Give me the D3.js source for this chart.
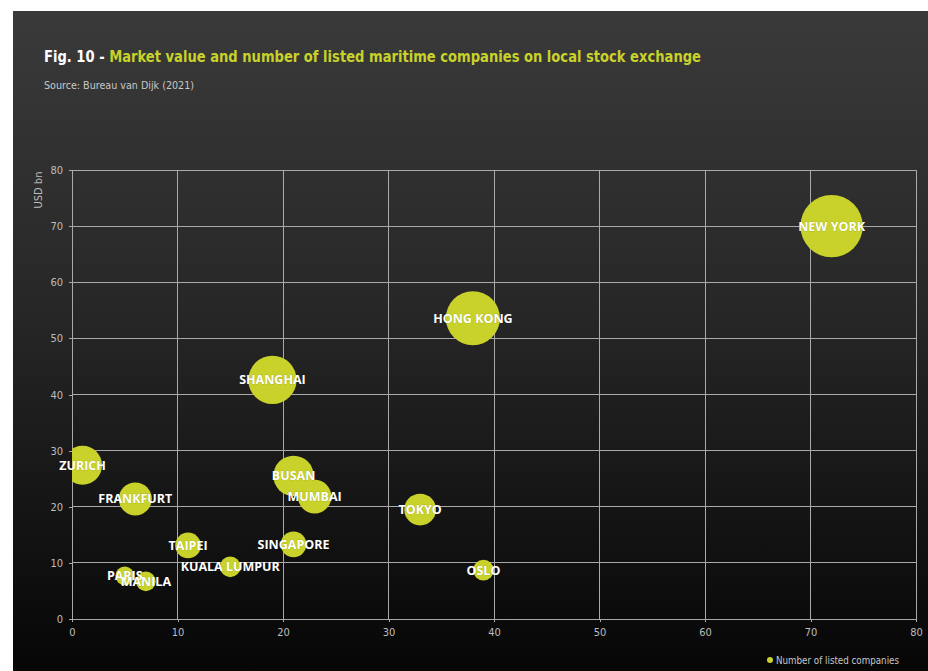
<!DOCTYPE html>
<html>
<head>
<meta charset="utf-8">
<script src="https://cdn.jsdelivr.net/npm/d3@7"></script>
<style>
  html, body { margin: 0; padding: 0; background: #ffffff; }
  svg { display: block; }
</style>
</head>
<body>
<svg id="chart" width="928" height="671"></svg>
<script>
// ---- Data ----
const cities = ["NEW YORK", "HONG KONG", "SHANGHAI", "ZURICH", "FRANKFURT", "BUSAN", "MUMBAI",
                "TOKYO", "TAIPEI", "SINGAPORE", "KUALA LUMPUR", "PARIS", "MANILA", "OSLO"];
const xValues = [72, 38, 19, 1, 6, 21, 23, 33, 11, 21, 15, 5, 7, 39];
const marketValue = [70, 53.6, 42.6, 27.4, 21.4, 25.5, 21.8, 19.5, 13.1, 13.3, 9.3, 7.7, 6.7, 8.7];
const listedCompanies = [100, 75, 60, 39, 28, 42, 29, 26, 17, 17, 11, 9, 10, 11];
const xTicks = [0, 10, 20, 30, 40, 50, 60, 70, 80];
const yTicks = [0, 10, 20, 30, 40, 50, 60, 70, 80];

const titlePrefix = "Fig. 10 - ";
const titleText = "Market value and number of listed maritime companies on local stock exchange";
const sourceText = "Source: Bureau van Dijk (2021)";
const yAxisTitle = "USD bn";
const legendLabel = "Number of listed companies";

// ---- Setup ----
const W = 928, H = 671;
const svg = d3.select("#chart");
const narrow = "'DejaVu Sans Condensed', 'Liberation Sans Narrow', 'Open Sans', sans-serif";
const bold = "'Open Sans', 'Noto Sans', sans-serif";
const accent = "#c8d22a";

const defs = svg.append("defs");
const grad = defs.append("linearGradient").attr("id", "bg").attr("x1", 0).attr("y1", 0).attr("x2", 0).attr("y2", 1);
grad.append("stop").attr("offset", "0%").attr("stop-color", "#3a3a3a");
grad.append("stop").attr("offset", "45%").attr("stop-color", "#272727");
grad.append("stop").attr("offset", "100%").attr("stop-color", "#060606");

svg.append("rect").attr("x", 13).attr("y", 11).attr("width", W - 13).attr("height", H - 11).attr("fill", "url(#bg)");

const x = d3.scaleLinear().domain([0, 80]).range([72, 916]);
const y = d3.scaleLinear().domain([0, 80]).range([619, 170]);
const r = d3.scaleSqrt().domain([0, 100]).range([0, 31.2]);

defs.append("clipPath").attr("id", "plotClip").append("rect")
  .attr("x", x(0)).attr("y", y(80)).attr("width", x(80) - x(0)).attr("height", y(0) - y(80));

// Title
const t = svg.append("text").attr("x", 44).attr("y", 62)
  .attr("font-family", narrow).attr("font-weight", "bold").attr("font-size", 15.5)
  .attr("textLength", 657).attr("lengthAdjust", "spacingAndGlyphs");
t.append("tspan").attr("fill", "#ffffff").text(titlePrefix);
t.append("tspan").attr("fill", accent).text(titleText);

svg.append("text").attr("x", 44).attr("y", 89)
  .attr("font-family", narrow).attr("font-size", 11).attr("fill", "#c8c8c8")
  .attr("textLength", 150).attr("lengthAdjust", "spacingAndGlyphs")
  .text(sourceText);

// Grid
const grid = svg.append("g").attr("stroke", "#a9a9a9").attr("stroke-width", 1).attr("shape-rendering", "crispEdges");
grid.selectAll("line.v").data(xTicks).join("line").attr("class", "v")
  .attr("x1", d => x(d)).attr("x2", d => x(d)).attr("y1", y(80)).attr("y2", y(0));
grid.selectAll("line.h").data(yTicks).join("line").attr("class", "h")
  .attr("x1", x(0)).attr("x2", x(80)).attr("y1", d => y(d)).attr("y2", d => y(d));

// Axes
const axisStyle = g => {
  g.select(".domain").remove();
  g.selectAll(".tick line").attr("stroke", "#a9a9a9").attr("shape-rendering", "crispEdges");
  g.selectAll(".tick text").attr("fill", "#bdbdbd").attr("font-family", narrow).attr("font-size", 11);
};
svg.append("g").attr("transform", `translate(${x(0)},0)`)
  .call(d3.axisLeft(y).tickValues(yTicks).tickSize(3).tickPadding(6))
  .call(axisStyle);
svg.append("g").attr("transform", `translate(0,${y(0)})`)
  .call(d3.axisBottom(x).tickValues(xTicks).tickSize(3).tickPadding(6))
  .call(axisStyle);

svg.append("text").attr("transform", `translate(42,190) rotate(-90)`)
  .attr("text-anchor", "middle").attr("font-family", narrow).attr("font-size", 11)
  .attr("fill", "#bdbdbd").text(yAxisTitle);

// Bubbles
const data = cities.map((c, i) => ({ c, x: xValues[i], y: marketValue[i], n: listedCompanies[i] }));
svg.append("g").attr("clip-path", "url(#plotClip)")
  .selectAll("circle").data(data).join("circle")
  .attr("cx", d => x(d.x)).attr("cy", d => y(d.y)).attr("r", d => r(d.n))
  .attr("fill", accent);

svg.append("g").selectAll("text").data(data).join("text")
  .attr("x", d => x(d.x)).attr("y", d => y(d.y)).attr("dy", "0.35em")
  .attr("text-anchor", "middle").attr("font-family", bold).attr("font-weight", 700)
  .attr("font-size", 12.5).attr("fill", "#ffffff")
  .attr("stroke", "rgba(0,0,0,0.25)").attr("stroke-width", 0.6).attr("paint-order", "stroke")
  .text(d => d.c);

// Legend
svg.append("circle").attr("cx", 770).attr("cy", 660).attr("r", 3).attr("fill", accent);
svg.append("text").attr("x", 776).attr("y", 664)
  .attr("font-family", narrow).attr("font-size", 10.5).attr("fill", "#c8c8c8")
  .attr("textLength", 123).attr("lengthAdjust", "spacingAndGlyphs")
  .text(legendLabel);
</script>
</body>
</html>
